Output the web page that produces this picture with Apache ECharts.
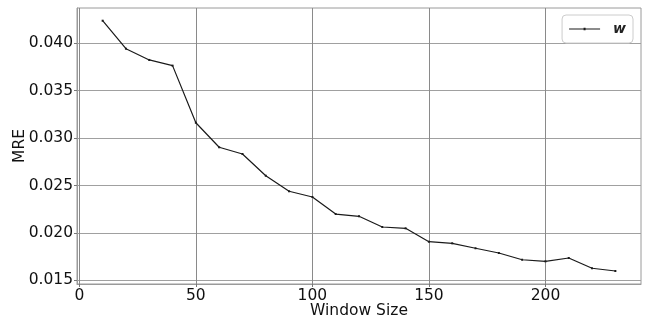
<!DOCTYPE html>
<html>
<head>
<meta charset="utf-8">
<script src="https://cdn.jsdelivr.net/npm/echarts@6/dist/echarts.min.js"></script>
<style>
  html, body { margin: 0; padding: 0; background: #fff; }
  #chart { width: 651px; height: 320px; }
</style>
</head>
<body>
<div id="chart"></div>
<script>
// Window sizes and mean relative error per window
const windowSizes = [10, 20, 30, 40, 50, 60, 70, 80, 90, 100, 110, 120, 130, 140, 150, 160, 170, 180, 190, 200, 210, 220, 230];
const mreValues = [0.04238, 0.03943, 0.03824, 0.03764, 0.03162, 0.02903, 0.02832, 0.02603, 0.02439, 0.02379, 0.02199, 0.02175, 0.02062, 0.02048, 0.01907, 0.01890, 0.01838, 0.01788, 0.01717, 0.01700, 0.01735, 0.01627, 0.01598];
const xTicks = [0, 50, 100, 150, 200];
const yTicks = [0.015, 0.020, 0.025, 0.030, 0.035, 0.040];
const seriesName = 'w';

const font = 'DejaVu Sans';
const chart = echarts.init(document.getElementById('chart'));

chart.setOption({
  animation: false,
  grid: { left: 77, right: 10, top: 8, bottom: 36, containLabel: false, outerBoundsMode: 'none',
          show: true, borderColor: '#9a9a9a', borderWidth: 1 },
  legend: {
    right: 18, top: 15,
    data: [{ name: seriesName, icon: 'path://M0,5.5 L31,5.5 L31,6.5 L0,6.5 Z M14.5,4.8 L16.5,4.8 L16.5,7.2 L14.5,7.2 Z' }],
    itemWidth: 31, itemHeight: 12,
    padding: [7, 7, 7, 7],
    borderColor: '#cccccc', borderWidth: 1, borderRadius: 4,
    backgroundColor: '#ffffff',
    textStyle: { fontFamily: font, fontSize: 14, fontWeight: 'bold', fontStyle: 'italic', color: '#222', padding: [0, 0, 0, 8] }
  },
  xAxis: {
    type: 'value', min: -1, max: 241,
    name: 'Window Size', nameLocation: 'middle', nameGap: 19, nameMoveOverlap: false,
    nameTextStyle: { fontFamily: font, fontSize: 15.5, color: '#111' },
    axisLine: { show: true, onZero: false, lineStyle: { color: '#9a9a9a', width: 1 } },
    axisTick: { show: true, length: 3, customValues: xTicks, lineStyle: { color: '#777' } },
    axisLabel: { customValues: xTicks, fontFamily: font, fontSize: 15.5, color: '#111', margin: 4 },
    splitLine: { show: true, lineStyle: { color: '#8a8a8a', width: 1 } }
  },
  yAxis: {
    type: 'value', min: 0.01461, max: 0.04372,
    name: 'MRE', nameLocation: 'middle', nameGap: 49, nameRotate: 90, nameMoveOverlap: false,
    nameTextStyle: { fontFamily: font, fontSize: 15.5, color: '#111' },
    axisLine: { show: true, onZero: false, lineStyle: { color: '#9a9a9a', width: 1 } },
    axisTick: { show: true, length: 3, customValues: yTicks, lineStyle: { color: '#777' } },
    axisLabel: { customValues: yTicks, fontFamily: font, fontSize: 15.5, color: '#111', margin: 4,
                 formatter: v => v.toFixed(3) },
    splitLine: { show: true, lineStyle: { color: '#a0a0a0', width: 1 } }
  },
  series: [{
    name: seriesName,
    type: 'line',
    data: windowSizes.map((x, i) => [x, mreValues[i]]),
    symbol: 'rect', symbolSize: 2,
    itemStyle: { color: '#1a1a1a' },
    lineStyle: { color: '#1a1a1a', width: 1.2 }
  }]
});
</script>
</body>
</html>
